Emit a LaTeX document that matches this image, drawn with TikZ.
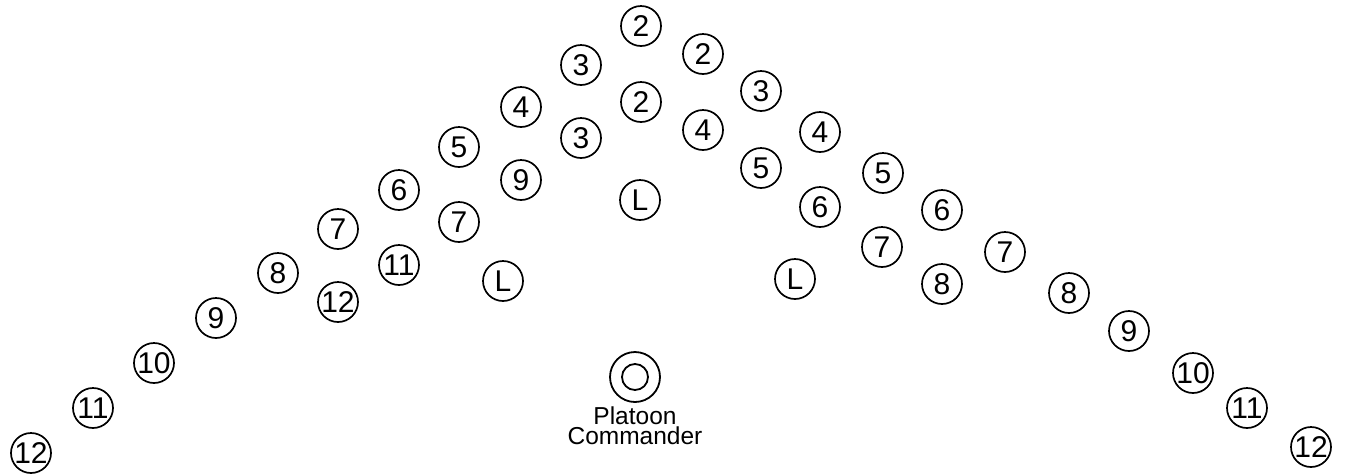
\documentclass[tikz,border=0pt]{standalone}
\usepackage{fontspec}
\setmainfont{Liberation Sans}
\begin{document}
\begin{tikzpicture}[x=1pt,y=-1pt,
  man/.style={circle,draw,line width=1.7pt,minimum size=40pt,inner sep=0pt,
    font=\fontsize{30}{30}\selectfont},
  cmd/.style={circle,draw,line width=1.8pt,minimum size=%
    #1,inner sep=0pt},
  lbl/.style={align=center,font=\fontsize{24.5}{20}\selectfont}]
\useasboundingbox (0,0) rectangle (1345,475);
% left outer wing
\node[man] (a12) at (31,453) {12};
\node[man] (a11) at (93,408) {11};
\node[man] (a10) at (154,363) {10};
\node[man] (a9) at (216,318) {9};
\node[man] (a8) at (278,273) {8};
\node[man] (a7) at (338,229) {7};
\node[man] (a6) at (399,190) {6};
\node[man] (a5) at (459,147) {5};
\node[man] (a4) at (521,107) {4};
\node[man] (a3) at (581,65) {3};
\node[man] (a2) at (641,26) {2};
% left inner
\node[man] (b12) at (338,302) {12};
\node[man] (b11) at (399,265) {11};
\node[man] (b7) at (459,222) {7};
\node[man] (b9) at (521,180) {9};
\node[man] (b3) at (581,138) {3};
\node[man] (b2) at (641,102) {2};
\node[man] (bL) at (503,281) {L};
\node[man] (cL) at (640,200) {L};
% right outer wing
\node[man] (d2) at (703,54) {2};
\node[man] (d3) at (761,91) {3};
\node[man] (d4) at (820,132) {4};
\node[man] (d5) at (883,173) {5};
\node[man] (d6) at (942,210) {6};
\node[man] (d7) at (1005,252) {7};
\node[man] (d8) at (1069,293) {8};
\node[man] (d9) at (1129,331) {9};
\node[man] (d10) at (1193,373) {10};
\node[man] (d11) at (1247,408) {11};
\node[man] (d12) at (1311,447) {12};
% right inner
\node[man] (e4) at (703,130) {4};
\node[man] (e5) at (761,168) {5};
\node[man] (e6) at (820,207) {6};
\node[man] (e7) at (882,247) {7};
\node[man] (e8) at (942,284) {8};
\node[man] (eL) at (795,279) {L};
% platoon commander
\node[cmd=50pt] (pc) at (635,377) {};
\node[cmd=26pt] (pci) at (635,377) {};
\node[lbl,anchor=north] (pct) at (635,403) {Platoon\\Commander};
\end{tikzpicture}
\end{document}
